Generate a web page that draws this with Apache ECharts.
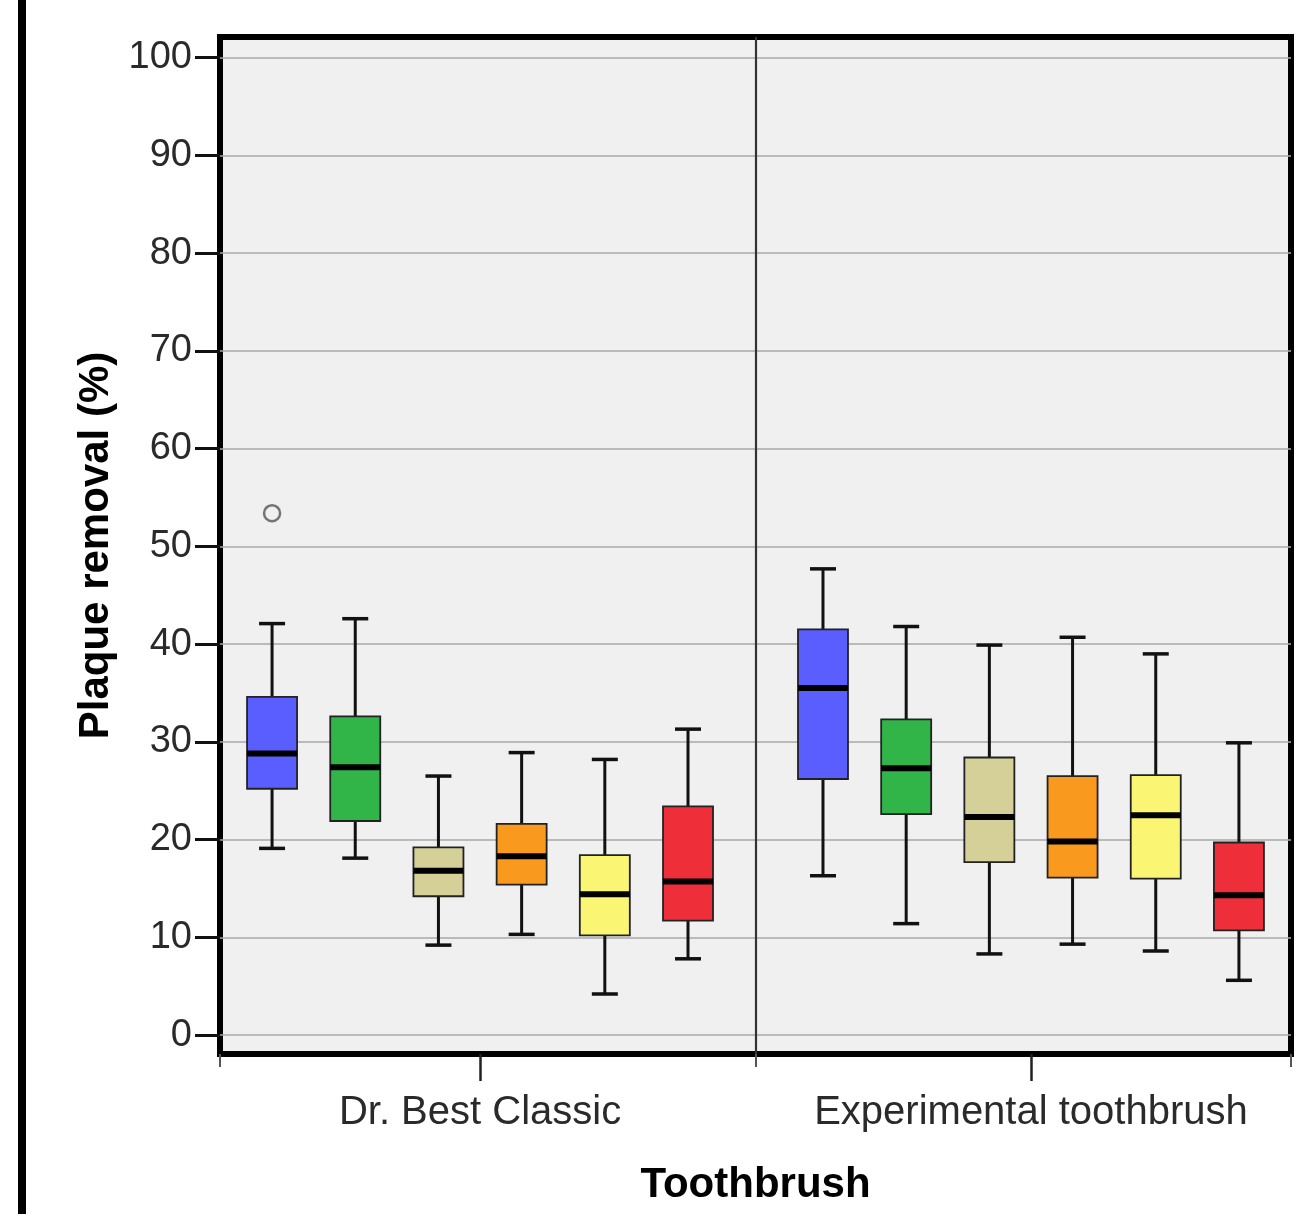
<!DOCTYPE html>
<html>
<head>
<meta charset="utf-8">
<title>Plaque removal by toothbrush</title>
<script src="https://cdn.jsdelivr.net/npm/echarts@6.0.0/dist/echarts.min.js"></script>
<style>
  html, body { margin: 0; padding: 0; background: #fff; }
  #chart { width: 1297px; height: 1214px; }
</style>
</head>
<body>
<div id="chart"></div>
<script>
/* global echarts */

// categories on the x axis
const brushes = ["Dr. Best Classic", "Experimental toothbrush"];

// six groups per toothbrush, each [min, Q1, median, Q3, max]
const drBestStats = [
  [19.1, 25.2, 28.8, 34.6, 42.1],
  [18.1, 21.9, 27.4, 32.6, 42.6],
  [9.2, 14.2, 16.8, 19.2, 26.5],
  [10.3, 15.4, 18.3, 21.6, 28.9],
  [4.2, 10.2, 14.4, 18.4, 28.2],
  [7.8, 11.7, 15.7, 23.4, 31.3],
];
const experimentalStats = [
  [16.3, 26.2, 35.5, 41.5, 47.7],
  [11.4, 22.6, 27.3, 32.3, 41.8],
  [8.3, 17.7, 22.3, 28.4, 39.9],
  [9.3, 16.1, 19.8, 26.5, 40.7],
  [8.6, 16.0, 22.5, 26.6, 39.0],
  [5.6, 10.7, 14.3, 19.7, 29.9],
];

// outliers: [brush index, group index, value]
const outliers = [[0, 0, 53.4]];

const yTicks = [0, 10, 20, 30, 40, 50, 60, 70, 80, 90, 100];

const GROUP_COLORS = ["#5a5eff", "#31b549", "#d4d098", "#f99a1e", "#faf673", "#ee2f39"];
const FONT = "'Liberation Sans', Arial, sans-serif";
const GROUP_STEP = 0.151; // distance between boxes, in brush units
const BOX_WIDTH = 50;
const CAP_WIDTH = 26;
const X_MIN = -0.472;
const X_MAX = 1.472;

function groupX(brushIndex, groupIndex) {
  return brushIndex + (groupIndex - 2.5) * GROUP_STEP;
}

function renderBox(params, api) {
  const x = groupX(api.value(0), api.value(1));
  const pMin = api.coord([x, api.value(2)]);
  const pQ1 = api.coord([x, api.value(3)]);
  const pMed = api.coord([x, api.value(4)]);
  const pQ3 = api.coord([x, api.value(5)]);
  const pMax = api.coord([x, api.value(6)]);
  const cx = pMed[0];
  const whisker = { stroke: "#111", lineWidth: 3 };
  const cap = { stroke: "#111", lineWidth: 3.5 };
  return {
    type: "group",
    children: [
      { type: "line", shape: { x1: cx, y1: pMax[1], x2: cx, y2: pQ3[1] }, style: whisker },
      { type: "line", shape: { x1: cx, y1: pQ1[1], x2: cx, y2: pMin[1] }, style: whisker },
      { type: "line", shape: { x1: cx - CAP_WIDTH / 2, y1: pMax[1], x2: cx + CAP_WIDTH / 2, y2: pMax[1] }, style: cap },
      { type: "line", shape: { x1: cx - CAP_WIDTH / 2, y1: pMin[1], x2: cx + CAP_WIDTH / 2, y2: pMin[1] }, style: cap },
      {
        type: "rect",
        shape: { x: cx - BOX_WIDTH / 2, y: pQ3[1], width: BOX_WIDTH, height: pQ1[1] - pQ3[1] },
        style: { fill: api.visual("color"), stroke: "#222", lineWidth: 1.8 },
      },
      {
        type: "line",
        shape: { x1: cx - BOX_WIDTH / 2, y1: pMed[1], x2: cx + BOX_WIDTH / 2, y2: pMed[1] },
        style: { stroke: "#000", lineWidth: 6 },
      },
    ],
  };
}

function buildBoxSeries() {
  const series = [];
  GROUP_COLORS.forEach((color, g) => {
    const data = [drBestStats, experimentalStats].map((stats, b) => [b, g].concat(stats[g]));
    series.push({
      type: "custom",
      name: "group" + (g + 1),
      renderItem: renderBox,
      itemStyle: { color },
      encode: { x: 0, y: [2, 3, 4, 5, 6] },
      data,
      z: 3,
    });
  });
  return series;
}

const chart = echarts.init(document.getElementById("chart"), null, { renderer: "canvas" });

const axisBase = {
  type: "value",
  min: X_MIN,
  max: X_MAX,
  position: "bottom",
  axisLine: { show: false, onZero: false },
  splitLine: { show: false },
};

chart.setOption({
  animation: false,
  backgroundColor: "#fff",
  textStyle: { fontFamily: FONT },
  graphic: [
    { type: "rect", left: 18, top: 0, shape: { width: 8, height: 1214 }, style: { fill: "#000" } },
  ],
  grid: {
    left: 220,
    top: 37,
    right: 6,
    bottom: 160,
    show: true,
    backgroundColor: "#f0f0f0",
    borderColor: "#000",
    borderWidth: 6,
    containLabel: false,
    outerBoundsMode: "none",
  },
  xAxis: [
    Object.assign({}, axisBase, {
      name: "Toothbrush",
      nameLocation: "middle",
      nameGap: 110,
      nameTextStyle: { fontSize: 42, fontWeight: "bold", color: "#000", fontFamily: FONT },
      axisTick: { show: true, customValues: [0, 1], length: 27, lineStyle: { color: "#222", width: 2.5 } },
      axisLabel: {
        customValues: [0, 1],
        formatter: (v) => brushes[Math.round(v)],
        fontSize: 40,
        color: "#2a2a2a",
        margin: 39,
        fontFamily: FONT,
      },
    }),
    Object.assign({}, axisBase, {
      axisTick: { show: true, customValues: [X_MIN, 0.5, X_MAX], length: 13, lineStyle: { color: "#555", width: 2 } },
      axisLabel: { show: false },
    }),
  ],
  yAxis: {
    type: "value",
    min: -1.94,
    max: 102.12,
    name: "Plaque removal (%)",
    nameLocation: "middle",
    nameGap: 99,
    nameRotate: 90,
    nameTextStyle: { fontSize: 42, fontWeight: "bold", color: "#000", fontFamily: FONT },
    axisLine: { show: false, onZero: false },
    axisTick: { show: true, customValues: yTicks, length: 25, lineStyle: { color: "#111", width: 3 } },
    axisLabel: {
      customValues: yTicks,
      fontSize: 38,
      color: "#2a2a2a",
      margin: 28,
      fontFamily: FONT,
    },
    splitLine: { show: true, lineStyle: { color: "#a8a8a8", width: 1.6 } },
  },
  series: buildBoxSeries().concat([
    {
      type: "scatter",
      name: "outliers",
      data: outliers.map(([b, g, v]) => [groupX(b, g), v]),
      symbol: "circle",
      symbolSize: 16,
      itemStyle: { color: "rgba(0,0,0,0)", borderColor: "#555", borderWidth: 2.5 },
      z: 4,
      markLine: {
        silent: true,
        symbol: ["none", "none"],
        label: { show: false },
        lineStyle: { color: "#333", width: 2.2, type: "solid" },
        data: [{ xAxis: 0.5 }],
        z: 2,
      },
    },
  ]),
});

window.addEventListener("resize", () => chart.resize());
</script>
</body>
</html>
